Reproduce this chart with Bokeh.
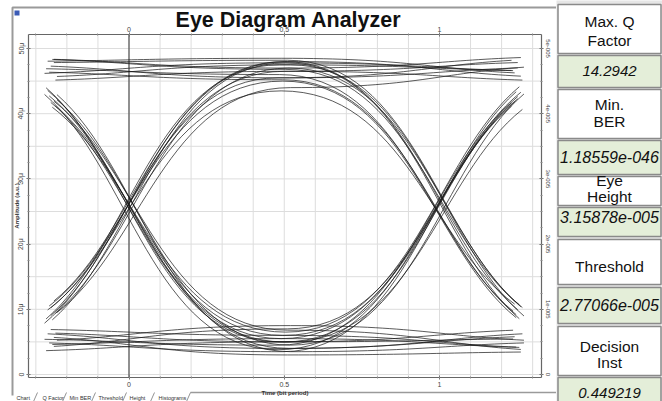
import math
import numpy as np
from bokeh.plotting import figure
from bokeh.models import Range1d, LinearAxis, FixedTicker, ColumnDataSource
from bokeh.layouts import row
from bokeh.embed import file_html
from bokeh.resources import INLINE
from bokeh.core.properties import value

# ---------------- data (amplitude in units of 1e-6 a.u.) ----------------
# level of every trace at the bit centres t = -0.5, 0.5 and 1.5 bit periods
level_prev = [48.5, 46.0, 47.5, 45.0, 48.0,
              47.0, 45.5, 48.5, 46.5, 47.8,
              46.5, 48.0, 45.0, 47.5, 46.0,
              47.0, 45.5, 48.5, 46.0, 47.5,
              6.0, 4.0, 5.5, 7.0, 3.5,
              5.0, 6.5, 4.5, 6.0, 3.8,
              5.5, 4.0, 6.5, 5.0, 7.0,
              4.5, 6.5, 5.0, 3.5, 6.0]
level_mid = [47.0, 47.8, 45.5, 46.5, 48.5,
             46.0, 47.5, 46.8, 45.2, 48.2,
             4.5, 5.5, 6.5, 3.8, 5.0,
             6.0, 4.0, 5.0, 6.8, 3.5,
             46.5, 47.5, 44.0, 48.0, 45.5,
             47.0, 45.0, 48.0, 43.5, 47.8,
             4.5, 7.0, 5.0, 3.5, 6.0,
             5.5, 4.0, 7.5, 5.0, 3.0]
level_next = [48.8, 46.5, 47.2, 45.0, 46.0,
              5.5, 4.5, 6.5, 5.0, 6.0,
              47.5, 46.0, 48.5, 45.5, 47.0,
              4.0, 6.5, 5.5, 3.5, 5.0,
              48.0, 46.5, 47.5, 45.5, 48.5,
              6.0, 4.5, 5.5, 7.0, 4.0,
              46.0, 47.5, 44.8, 48.0, 46.5,
              4.0, 6.0, 5.0, 7.0, 3.5]
# timing jitter of every trace (bit periods)
skew = [0.01, -0.02, 0.0, 0.015, -0.01,
        -0.015, 0.02, 0.005, -0.005, 0.01,
        0.02, -0.01, 0.005, -0.02, 0.0,
        -0.005, 0.015, -0.015, 0.01, 0.02,
        0.0, -0.015, 0.02, 0.01, -0.02,
        0.015, -0.005, 0.0, -0.01, 0.005,
        -0.02, 0.01, 0.015, -0.005, 0.0,
        0.005, -0.01, 0.02, -0.015, 0.01]

y_ticks = [0, 10, 20, 30, 40, 50]
y_labels_left = ["0", "10\u03bc", "20\u03bc", "30\u03bc", "40\u03bc", "50\u03bc"]
y_labels_right = ["0", "1e-005", "2e-005", "3e-005", "4e-005", "5e-005"]
x_ticks = [0, 0.5, 1]
x_labels = ["0", "0.5", "1"]

metric_names = ["Max. Q\nFactor", "Min.\nBER", "Eye\nHeight", "Threshold", "Decision\nInst"]
metric_values = ["14.2942", "1.18559e-046", "3.15878e-005", "2.77066e-005", "0.449219"]
tab_names = ["Chart", "Q Factor", "Min BER", "Threshold", "Height", "Histograms"]
title_text = "Eye Diagram Analyzer"
y_title = "Amplitude (a.u.)"
x_title = "Time (bit period)"

FONT = "Liberation Sans"

# ---------------- page geometry (pixels of the 662x401 picture) ----------------
W_LEFT, W_RIGHT, H = 556, 106, 401
X0_PX, X_SCALE = 128.5, 310.5        # pixel of t = 0, pixels per bit period
Y0_PX, Y_SCALE = 374.0, 6.52         # pixel of amplitude 0, pixels per 1e-6
def px2x(px):
    return (px - X0_PX) / X_SCALE
def px2y(py):
    return (Y0_PX - py) / Y_SCALE
BOX_L, BOX_R, BOX_T, BOX_B = px2x(28), px2x(541), px2y(34), px2y(377)

# ---------------- geometry of the traces (cubic Bezier between bit centres) --------
a = np.array(level_prev); b = np.array(level_mid); c = np.array(level_next)
s = np.array(skew)

def lerp(p, q, t):
    return p + (q - p) * t

def split(P0, P1, P2, P3, t, keep):
    P01 = lerp(P0, P1, t); P12 = lerp(P1, P2, t); P23 = lerp(P2, P3, t)
    P012 = lerp(P01, P12, t); P123 = lerp(P12, P23, t)
    P0123 = lerp(P012, P123, t)
    if keep == "right":
        return P0123, P123, P23, P3
    return P0, P01, P012, P0123

def seg(t0, ya, yb):
    return (np.stack([t0 - 0.5 + s, ya]), np.stack([t0 + s, ya]),
            np.stack([t0 + s, yb]), np.stack([t0 + 0.5 + s, yb]))

Q0 = split(*seg(0.0, a, b), 0.2, "right")
Q1 = split(*seg(1.0, b, c), 0.8, "left")
cols = {k: [] for k in ["x0", "y0", "cx0", "cy0", "cx1", "cy1", "x1", "y1"]}
for Q in (Q0, Q1):
    cols["x0"] += list(Q[0][0]); cols["y0"] += list(Q[0][1])
    cols["cx0"] += list(Q[1][0]); cols["cy0"] += list(Q[1][1])
    cols["cx1"] += list(Q[2][0]); cols["cy1"] += list(Q[2][1])
    cols["x1"] += list(Q[3][0]); cols["y1"] += list(Q[3][1])
src = ColumnDataSource(cols)

# ---------------- eye diagram figure ----------------
p = figure(width=W_LEFT, height=H, title=None,
           x_range=Range1d(px2x(0), px2x(W_LEFT)), y_range=Range1d(px2y(H), px2y(0)),
           output_backend="svg", toolbar_location=None,
           x_axis_location=None, y_axis_location=None, min_border=0)
p.outline_line_color = None
p.background_fill_color = "white"
p.border_fill_color = "white"
p.grid.visible = False

# grid
gx = np.round(np.arange(-3, 14) * 0.1, 2)
gy = np.arange(0, 55, 5)
p.segment(x0=gx, x1=gx, y0=BOX_B, y1=BOX_T, line_color="#dddddd", line_width=1)
p.segment(x0=BOX_L, x1=BOX_R, y0=gy, y1=gy, line_color="#dddddd", line_width=1)

def style_axis(ax):
    ax.axis_line_color = "#666666"
    ax.axis_line_width = 1.2
    ax.major_tick_line_color = "#666666"
    ax.minor_tick_line_color = "#888888"
    ax.major_tick_in = 2
    ax.major_tick_out = 2
    ax.minor_tick_in = 1
    ax.minor_tick_out = 1
    ax.major_label_text_font = FONT
    ax.major_label_text_font_size = "7px"
    ax.major_label_text_color = "#444444"
    ax.major_label_standoff = 2
    ax.axis_label_text_font = FONT
    ax.axis_label_text_font_size = "6px"
    ax.axis_label_text_font_style = "bold"
    ax.axis_label_text_color = "#333333"
    ax.axis_label_standoff = 0

yminor = list(np.arange(0, 52.5, 2.5))
xminor = list(gx)

left = LinearAxis(ticker=FixedTicker(ticks=y_ticks, minor_ticks=yminor),
                  major_label_overrides=dict(zip(y_ticks, y_labels_left)),
                  major_label_orientation="vertical",
                  fixed_location=BOX_L, bounds=(BOX_B, BOX_T))
style_axis(left)
p.add_layout(left, "left")

right = LinearAxis(ticker=FixedTicker(ticks=y_ticks, minor_ticks=yminor),
                   major_label_overrides=dict(zip(y_ticks, y_labels_right)),
                   major_label_orientation="vertical",
                   fixed_location=BOX_R, bounds=(BOX_B, BOX_T))
style_axis(right)
right.major_label_text_font_size = "6px"
p.add_layout(right, "right")

below = LinearAxis(ticker=FixedTicker(ticks=x_ticks, minor_ticks=xminor),
                   major_label_overrides=dict(zip(x_ticks, x_labels)),
                   axis_label=x_title,
                   fixed_location=BOX_B, bounds=(BOX_L, BOX_R))
style_axis(below)
p.add_layout(below, "below")

above = LinearAxis(ticker=FixedTicker(ticks=x_ticks, minor_ticks=xminor),
                   major_label_overrides=dict(zip(x_ticks, x_labels)),
                   fixed_location=BOX_T, bounds=(BOX_L, BOX_R))
style_axis(above)
above.major_label_standoff = 1
p.add_layout(above, "above")

# y-axis title (rotated)
p.text(x=[px2x(16.5)], y=[(BOX_B + BOX_T) / 2], text=[y_title], angle=math.pi / 2,
       text_align="center", text_baseline="middle", text_font=value(FONT),
       text_font_size="6px", text_font_style="bold", text_color="#333333")

# decision line at t = 0
p.segment(x0=[0], x1=[0], y0=[BOX_B], y1=[BOX_T], line_color="#333333", line_width=1)

# eye traces
p.bezier(x0="x0", y0="y0", x1="x1", y1="y1", cx0="cx0", cy0="cy0", cx1="cx1", cy1="cy1",
         source=src, line_color="#1a1a1a", line_width=0.85, line_alpha=0.85)

# title
p.text(x=[px2x(288)], y=[px2y(19)], text=[title_text], text_align="center",
       text_baseline="middle", text_font=value(FONT), text_font_size="21.5px",
       text_font_style="bold", text_color="#111111")

# window frame, icon and tabs
p.line(x=[px2x(12), px2x(12), px2x(556)], y=[px2y(395), px2y(7), px2y(7)],
       line_color="#9a9a9a", line_width=2)
p.line(x=[px2x(190), px2x(556)], y=[px2y(392), px2y(392)], line_color="#9a9a9a", line_width=1.5)
p.quad(left=[px2x(14)], right=[px2x(19)], top=[px2y(10)], bottom=[px2y(15)],
       fill_color="#3b5bb5", line_color=None)
tab_px = [16, 42, 69, 98, 129, 158]
sep_px = [35, 64, 93, 124, 152, 188]
p.text(x=[px2x(v) for v in tab_px], y=[px2y(397)] * len(tab_names), text=tab_names,
       text_baseline="middle", text_font=value(FONT), text_font_size="5.5px", text_color="#333333")
p.segment(x0=[px2x(v - 2) for v in sep_px], x1=[px2x(v + 2) for v in sep_px],
          y0=[px2y(401)] * 6, y1=[px2y(392)] * 6, line_color="#777777", line_width=0.8)

# ---------------- metrics panel ----------------
q = figure(width=W_RIGHT, height=H, title=None, x_range=Range1d(556, 662), y_range=Range1d(401, 0),
           output_backend="svg", toolbar_location=None,
           x_axis_location=None, y_axis_location=None, min_border=0)
q.outline_line_color = None
q.background_fill_color = "#e6e6e6"
q.border_fill_color = "white"
q.grid.visible = False

cell_top = [4, 55, 89, 140, 176, 207, 239, 287, 326, 377]
cell_bot = [53, 87, 138, 174, 205, 236, 284, 323, 375, 403]
cell_fill = ["white", "#e4eed9"] * 5
q.quad(left=557.5, right=660.5, top=cell_top, bottom=cell_bot, fill_color=cell_fill,
       line_color="#8a8a8a", line_width=1.5)

label_line_y = [[21, 40], [104, 121], [180, 196], [266], [346, 362]]
lines, lines_y = [], []
for name, ys in zip(metric_names, label_line_y):
    for ln, yy in zip(name.split("\n"), ys):
        lines.append(ln); lines_y.append(yy)
q.text(x=[609] * len(lines), y=lines_y, text=lines, text_align="center", text_baseline="middle",
       text_font=value(FONT), text_font_size="15.5px", text_color="#111111")

value_y = [70, 156, 216, 304, 392]
vsrc = ColumnDataSource(dict(x=[609] * 5, y=value_y, text=metric_values,
                             size=["16px" if "e" in v else "15px" for v in metric_values]))
q.text(x="x", y="y", text="text", source=vsrc, text_align="center", text_baseline="middle",
       text_font=value(FONT), text_font_size="size", text_font_style="italic", text_color="#111111")

layout = row(p, q, spacing=0)
open("out.html", "w").write(file_html(layout, INLINE))
